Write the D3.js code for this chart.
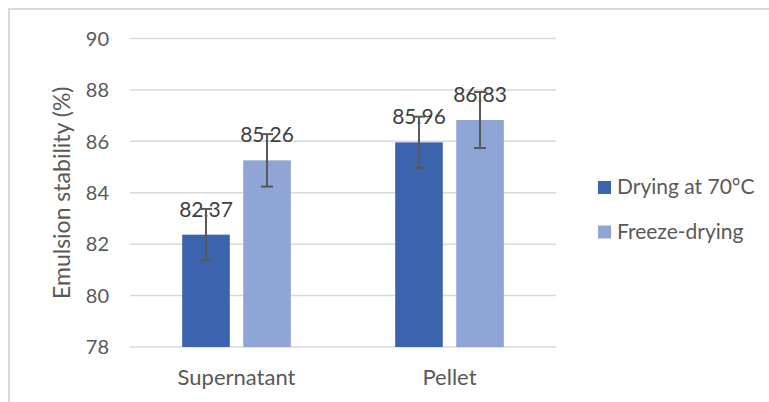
<!DOCTYPE html>
<html>
<head>
<meta charset="utf-8">
<script src="https://cdn.jsdelivr.net/npm/d3@7"></script>
<style>
  body { margin: 0; background: white; }
  text { font-family: Lato, "Open Sans", sans-serif; }
</style>
</head>
<body>
<div id="chart"></div>
<script>
// chart data
const categories = ["Supernatant", "Pellet"];
const seriesNames = ["Drying at 70°C", "Freeze-drying"];
const drying70 = [82.37, 85.96];
const freezeDrying = [85.26, 86.83];
const drying70Err = [1.0, 1.0];
const freezeDryingErr = [1.02, 1.09];
const yTicks = [78, 80, 82, 84, 86, 88, 90];

const width = 769, height = 402;
const colors = ["#3c63ad", "#8fa5d6"];

const svg = d3.select("#chart")
    .append("svg")
    .attr("width", width)
    .attr("height", height);

// chart area border (only top and left show)
svg.append("path")
    .attr("d", `M9,${height} V9 H${width}`)
    .attr("fill", "none")
    .attr("stroke", "#d9d9d9")
    .attr("stroke-width", 2);

const plot = { left: 130, right: 556, top: 38.5, bottom: 347 };

const y = d3.scaleLinear()
    .domain([78, 90])
    .range([plot.bottom, plot.top]);

const x0 = d3.scaleBand()
    .domain(categories)
    .range([plot.left, plot.right])
    .paddingInner(0.49)
    .paddingOuter(0.245);

const x1 = d3.scaleBand()
    .domain(seriesNames)
    .range([0, x0.bandwidth()])
    .paddingInner(0.22);

// gridlines
svg.append("g")
    .selectAll("line")
    .data(yTicks)
    .join("line")
    .attr("x1", plot.left)
    .attr("x2", plot.right)
    .attr("y1", d => y(d))
    .attr("y2", d => y(d))
    .attr("stroke", "#d9d9d9")
    .attr("stroke-width", 1.5);

// y tick labels
svg.append("g")
    .selectAll("text")
    .data(yTicks)
    .join("text")
    .attr("x", 109)
    .attr("y", d => y(d))
    .attr("dy", "0.36em")
    .attr("text-anchor", "end")
    .attr("font-size", 20)
    .attr("fill", "#595959")
    .text(d => d);

// y axis title
svg.append("text")
    .attr("transform", `translate(70,${(plot.top + plot.bottom) / 2}) rotate(-90)`)
    .attr("text-anchor", "middle")
    .attr("font-size", 23)
    .attr("fill", "#595959")
    .text("Emulsion stability (%)");

// build rows from the arrays
const rows = categories.map((c, i) => ({
    category: c,
    values: [
        { series: seriesNames[0], value: drying70[i], err: drying70Err[i] },
        { series: seriesNames[1], value: freezeDrying[i], err: freezeDryingErr[i] }
    ]
}));

const groups = svg.append("g")
    .selectAll("g")
    .data(rows)
    .join("g")
    .attr("transform", d => `translate(${x0(d.category)},0)`);

groups.selectAll("rect")
    .data(d => d.values)
    .join("rect")
    .attr("x", d => x1(d.series))
    .attr("width", x1.bandwidth())
    .attr("y", d => y(d.value))
    .attr("height", d => y(78) - y(d.value))
    .attr("fill", (d, i) => colors[i]);

// data labels
groups.selectAll("text.lbl")
    .data(d => d.values)
    .join("text")
    .attr("class", "lbl")
    .attr("x", d => x1(d.series) + x1.bandwidth() / 2)
    .attr("y", d => y(d.value) - 18)
    .attr("text-anchor", "middle")
    .attr("font-size", 21)
    .attr("fill", "#404040")
    .text(d => d.value.toFixed(2));

// error bars
const err = groups.selectAll("g.err")
    .data(d => d.values)
    .join("g")
    .attr("class", "err")
    .attr("stroke", "#595959")
    .attr("stroke-width", 2);

err.append("line")
    .attr("x1", d => x1(d.series) + x1.bandwidth() / 2)
    .attr("x2", d => x1(d.series) + x1.bandwidth() / 2)
    .attr("y1", d => y(d.value + d.err))
    .attr("y2", d => y(d.value - d.err));

err.selectAll("line.cap")
    .data(d => [d.value + d.err, d.value - d.err].map(v => ({ v, d })))
    .join("line")
    .attr("class", "cap")
    .attr("x1", e => x1(e.d.series) + x1.bandwidth() / 2 - 6)
    .attr("x2", e => x1(e.d.series) + x1.bandwidth() / 2 + 6)
    .attr("y1", e => y(e.v))
    .attr("y2", e => y(e.v));

// category labels
svg.append("g")
    .selectAll("text")
    .data(categories)
    .join("text")
    .attr("x", d => x0(d) + x0.bandwidth() / 2)
    .attr("y", 385)
    .attr("text-anchor", "middle")
    .attr("font-size", 22)
    .attr("fill", "#595959")
    .text(d => d);

// legend
const legend = svg.append("g")
    .selectAll("g")
    .data(seriesNames)
    .join("g")
    .attr("transform", (d, i) => `translate(598,${181 + i * 44.5})`);

legend.append("rect")
    .attr("width", 13)
    .attr("height", 13)
    .attr("fill", (d, i) => colors[i]);

legend.append("text")
    .attr("x", 19)
    .attr("y", 13)
    .attr("font-size", 21)
    .attr("fill", "#595959")
    .text(d => d);
</script>
</body>
</html>
